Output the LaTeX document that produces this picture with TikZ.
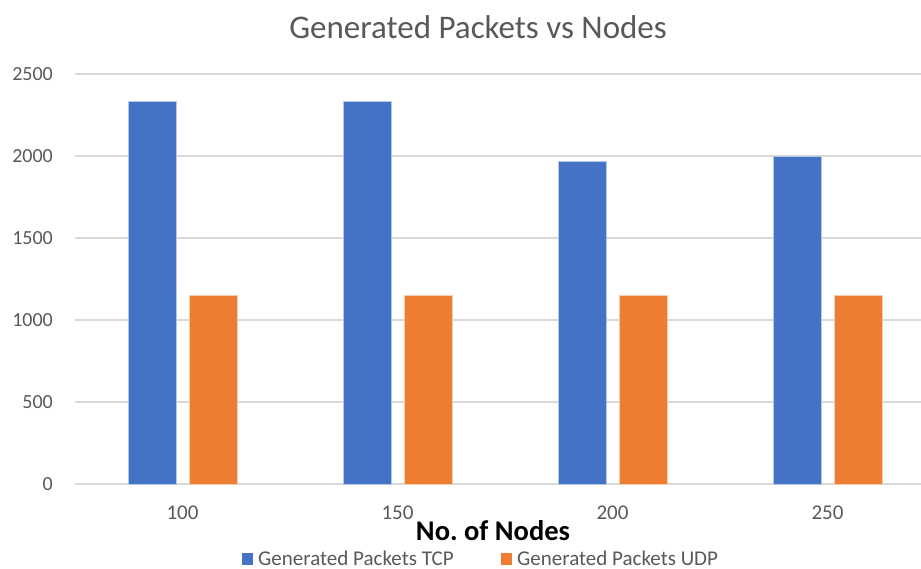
\documentclass[tikz,border=0pt]{standalone}
\usepackage{fontspec}
\setmainfont{Carlito}
\definecolor{tcpblue}{HTML}{4472C4}
\definecolor{udporange}{HTML}{ED7D31}
\definecolor{gridgray}{HTML}{D9D9D9}
\definecolor{textgray}{HTML}{595959}
\tikzset{
  grid line/.style={draw=gridgray, line width=1.5pt},
  tick label/.style={text=textgray, font=\fontsize{20}{22}\selectfont, inner sep=0pt},
  tcpbar/.style={fill=tcpblue, draw=tcpblue!40!white, line width=0.8pt},
  udpbar/.style={fill=udporange, draw=udporange!40!white, line width=0.8pt},
  legend text/.style={text=textgray, font=\fontsize{21}{23}\selectfont, inner sep=0pt, anchor=west},
}
\begin{document}
\begin{tikzpicture}[x=1pt, y=-1pt]
\useasboundingbox[fill=white] (0,0) rectangle (921,569);
% title
\node[text=textgray, font=\fontsize{33}{36}\selectfont, inner sep=0pt] (title) at (478,27) {Generated Packets vs Nodes};
% gridlines and y labels
\foreach \k/\lab in {0/0,1/500,2/1000,3/1500,4/2000,5/2500}{
  \draw[grid line] (75,{484-82*\k}) -- (921,{484-82*\k});
  \node[tick label, anchor=east] (ylab\k) at (53,{484-82*\k}) {\lab};
}
% bars
\foreach \i/\c/\t/\u in {1/182.5/2335/1150, 2/397.5/2335/1150, 3/612.5/1970/1150, 4/827.5/2000/1150}{
  \path[tcpbar] ({\c-54.5},484) rectangle ({\c-6.5},{484-0.164*\t});
  \path[udpbar] ({\c+6.5},484) rectangle ({\c+54.5},{484-0.164*\u});
}
% x labels
\node[tick label, font=\fontsize{21}{23}\selectfont] (x100) at (182.5,513) {100};
\node[tick label, font=\fontsize{21}{23}\selectfont] (x150) at (397.5,513) {150};
\node[tick label, font=\fontsize{21}{23}\selectfont] (x200) at (612.5,513) {200};
\node[tick label, font=\fontsize{21}{23}\selectfont] (x250) at (827.5,513) {250};
% axis title
\node[font=\bfseries\fontsize{28.5}{30}\selectfont, inner sep=0pt] (xtitle) at (493,531) {No.\ of Nodes};
% legend
\path[fill=tcpblue] (242,553) rectangle (253,565);
\node[legend text] (legtcp) at (258,558) {Generated Packets TCP};
\path[fill=udporange] (501,553) rectangle (512,565);
\node[legend text] (legudp) at (517,558) {Generated Packets UDP};
\end{tikzpicture}
\end{document}
